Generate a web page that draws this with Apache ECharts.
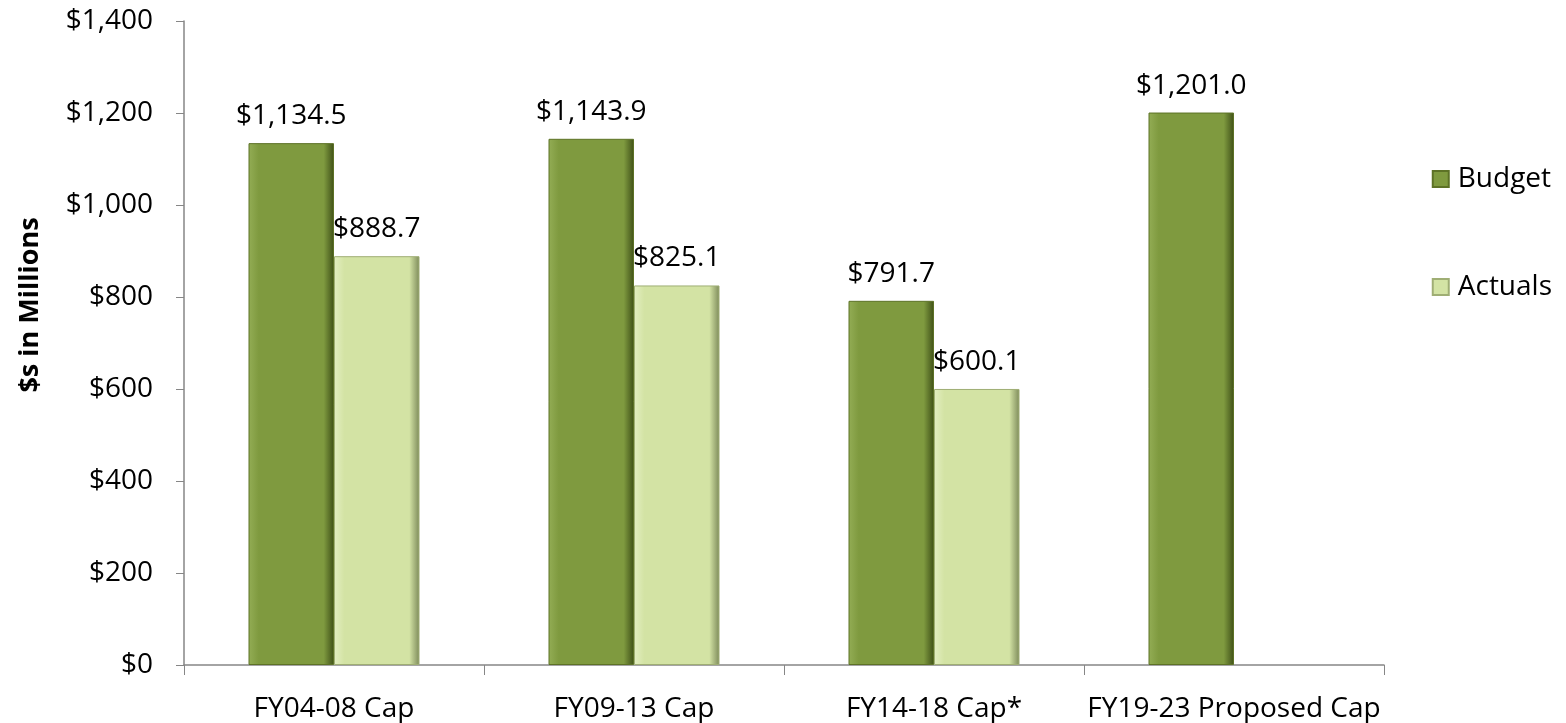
<!DOCTYPE html>
<html>
<head>
<meta charset="utf-8">
<script src="https://cdn.jsdelivr.net/npm/echarts@6/dist/echarts.min.js"></script>
<style>
  html, body { margin: 0; padding: 0; background: #fff; }
  #chart { width: 1566px; height: 723px; }
</style>
</head>
<body>
<div id="chart"></div>
<script>
// categories and values
var categories = ['FY04-08 Cap', 'FY09-13 Cap', 'FY14-18 Cap*', 'FY19-23 Proposed Cap'];
var budget = [1134.5, 1143.9, 791.7, 1201.0];
var actuals = [888.7, 825.1, 600.1, null];
var yTicks = [0, 200, 400, 600, 800, 1000, 1200, 1400];

var font = '"Open Sans", "Liberation Sans", sans-serif';

function money(v) {
    return '$' + v.toLocaleString('en-US');
}
function moneyLabel(v) {
    return '$' + v.toLocaleString('en-US', { minimumFractionDigits: 1, maximumFractionDigits: 1 });
}

function bevel(light, mid, dark) {
    return new echarts.graphic.LinearGradient(0, 0, 1, 0, [
        { offset: 0, color: light },
        { offset: 0.12, color: mid },
        { offset: 0.88, color: mid },
        { offset: 1, color: dark }
    ]);
}

var chart = echarts.init(document.getElementById('chart'));
chart.setOption({
    animation: false,
    textStyle: { fontFamily: font },
    grid: { left: 184, right: 182, top: 21, bottom: 58 },
    // y axis title sits a bit above the middle of the axis in the original
    graphic: [{
        type: 'text',
        x: 30,
        y: 305,
        rotation: Math.PI / 2,
        style: {
            text: '$s in Millions',
            font: 'bold 27px ' + font,
            fill: '#000',
            align: 'center',
            verticalAlign: 'middle'
        }
    }],
    legend: {
        orient: 'vertical',
        right: 9,
        top: 160,
        itemGap: 80,
        itemWidth: 16,
        itemHeight: 16,
        icon: 'rect',
        textStyle: { fontSize: 28, color: '#000', fontFamily: font, padding: [0, 0, 0, 4] },
        data: ['Budget', 'Actuals']
    },
    xAxis: {
        type: 'category',
        data: categories,
        axisLine: { lineStyle: { color: '#868686', width: 1.5 } },
        axisTick: { show: true, length: 10, lineStyle: { color: '#868686' } },
        axisLabel: { fontSize: 28, color: '#000', margin: 30, interval: 0, fontFamily: font }
    },
    yAxis: {
        type: 'value',
        min: 0,
        max: 1400,
        interval: 200,
        splitLine: { show: false },
        axisLine: { show: true, lineStyle: { color: '#868686', width: 1.5 } },
        axisTick: { show: true, length: 8, lineStyle: { color: '#868686' } },
        axisLabel: {
            fontSize: 28, color: '#000', margin: 31, fontFamily: font,
            formatter: function (v) { return yTicks.indexOf(v) >= 0 ? money(v) : ''; }
        }
    },
    series: [
        {
            name: 'Budget',
            type: 'bar',
            data: budget,
            barGap: '0%',
            barCategoryGap: '43%',
            itemStyle: {
                color: bevel('#93ad55', '#7f9a3f', '#3f5018'),
                borderColor: '#5d7226',
                borderWidth: 1
            },
            label: {
                show: true, position: 'top', distance: 13,
                fontSize: 28, color: '#000', fontFamily: font,
                formatter: function (p) { return moneyLabel(p.value); }
            }
        },
        {
            name: 'Actuals',
            type: 'bar',
            data: actuals,
            itemStyle: {
                color: bevel('#e4efc2', '#d3e3a4', '#7d8a5a'),
                borderColor: '#9fae74',
                borderWidth: 1
            },
            label: {
                show: true, position: 'top', distance: 13,
                fontSize: 28, color: '#000', fontFamily: font,
                formatter: function (p) { return p.value == null ? '' : moneyLabel(p.value); }
            }
        }
    ]
});
</script>
</body>
</html>
